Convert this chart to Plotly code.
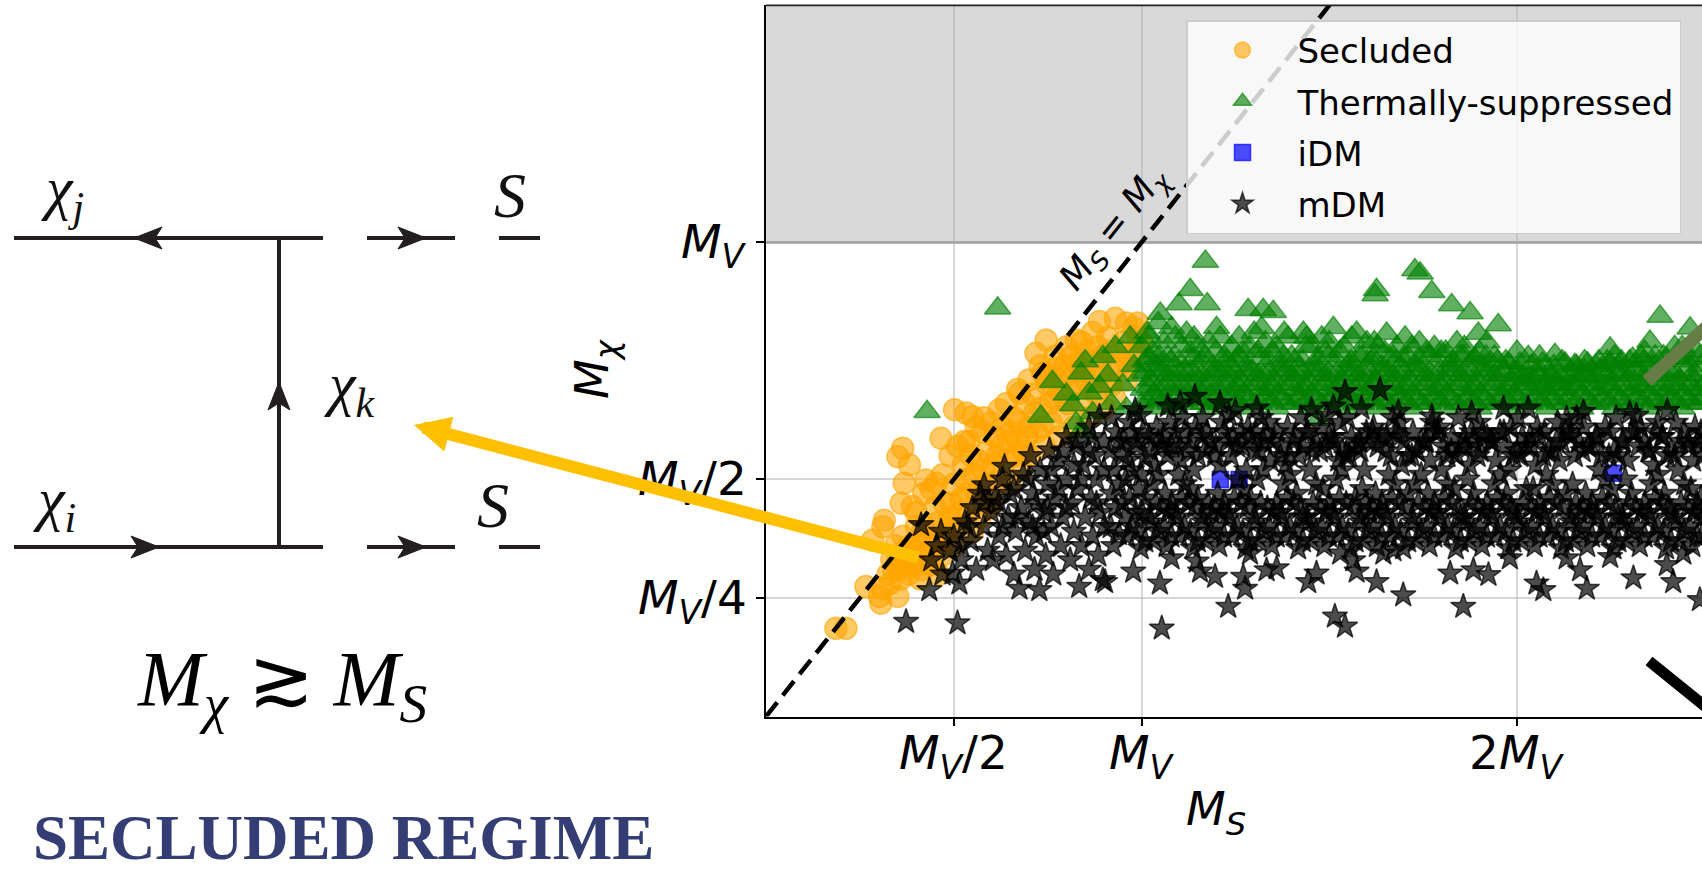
import plotly.graph_objects as go

W, H = 1702, 872

# ---------------- data (units of M_V) ----------------
secluded_pts = [
    (.186,.186),(.213,.186),(.266,.274),(.302,.253),(.306,.239),(.351,.253),(.284,.372),(.311,.400),
    (.315,.414),(.36,.45),(.39,.443),(.368,.492),(.351,.548),(.364,.566),(.382,.531),(.426,.499),
    (.453,.492),(.466,.587),(.502,.647),(.533,.640),(.55,.633),(.528,.580),(.621,.647),(.675,.682),
    (.719,.766),(.746,.794),(.772,.735),(.826,.794),(.888,.833),(.883,.780),(.826,.745),(.737,.724),
    (.93,.84),(.96,.83),(.99,.83),(.91,.80),
    (.33,.28),(.34,.31),(.35,.33),(.36,.29),(.345,.36),(.37,.35),
    (.38,.30),(.39,.33),(.40,.37),(.41,.29),(.42,.34),(.40,.40),(.415,.31),(.43,.38),(.385,.36),
    (.44,.32),(.45,.36),(.46,.41),(.47,.34),(.48,.38),(.45,.44),(.475,.45),(.46,.30),(.49,.42),
    (.50,.36),(.51,.40),(.52,.46),(.53,.50),(.54,.43),(.55,.39),(.50,.49),(.525,.53),(.545,.55),(.56,.47),
    (.57,.42),(.58,.52),(.59,.56),(.60,.46),(.61,.59),(.62,.50),(.575,.60),(.595,.44),(.615,.55),(.63,.61),
    (.64,.54),(.65,.49),(.66,.63),(.67,.58),(.68,.52),(.69,.66),(.70,.61),(.655,.60),(.685,.56),(.70,.55),
    (.71,.68),(.72,.60),(.73,.65),(.74,.57),(.75,.70),(.76,.62),(.77,.67),(.78,.59),(.745,.72),(.775,.71),
    (.79,.64),(.80,.72),(.81,.69),(.82,.61),(.83,.74),(.84,.66),(.85,.71),(.86,.63),(.815,.76),(.855,.77),
    (.87,.75),(.88,.68),(.89,.72),(.90,.65),(.91,.77),(.92,.70),(.94,.74),(.95,.79),(.97,.76),(.99,.80),
    (.93,.67),(.96,.71),
    (.31,.27),(.325,.30),(.335,.33),(.355,.31),(.365,.38),(.375,.32),(.395,.35),(.405,.32),(.42,.40),
    (.435,.35),(.445,.39),(.465,.37),(.485,.40),(.495,.45),(.515,.43),(.535,.47),(.555,.51),(.565,.54),
    (.585,.49),(.605,.53),(.625,.57),(.645,.58),(.665,.55),(.675,.62),(.695,.59),(.715,.64),(.735,.61),
    (.755,.66),(.765,.70),(.785,.68),(.795,.74),(.805,.66),(.825,.70),(.845,.73),(.865,.69),(.875,.72),
    (.895,.76),(.905,.70),(.925,.74),(.945,.77),(.965,.74),(.985,.77),(1.0,.79),(.98,.82),
    (.40,.43),(.42,.47),(.44,.48),(.47,.51),(.49,.55),(.51,.57),(.54,.58),(.56,.61),(.58,.63),
    (.60,.62),(.64,.66),(.67,.69),(.70,.71),(.73,.74),(.77,.76),(.80,.78),(.84,.79),(.87,.81),
]

thermal_pts = [
    (.617,.861),(.429,.643),(.732,.633),(.763,.706),(.839,.724),(.817,.657),(.826,.619),(.839,.601),
    (.861,.682),(.888,.696),(.897,.759),(.80,.68),(.87,.64),(.85,.75),(.91,.72),(.92,.66),(.93,.78),
    (.95,.70),(.96,.65),(.97,.80),(.98,.74),
    (1.00,.66),(1.005,.69),(.995,.72),(1.01,.75),(1.00,.78),(1.015,.81),
    (1.03,.65),(1.035,.68),(1.025,.71),(1.04,.74),(1.03,.77),(1.045,.83),
    (1.06,.67),(1.065,.70),(1.055,.73),(1.07,.76),(1.06,.79),(1.05,.85),
    (1.09,.65),(1.095,.69),(1.085,.72),(1.10,.75),(1.09,.80),(1.10,.87),
    (1.12,.66),(1.125,.70),(1.115,.73),(1.13,.77),(1.12,.81),(1.13,.90),
    (1.15,.67),(1.155,.69),(1.145,.72),(1.16,.75),(1.15,.78),(1.17,.96),
    (1.18,.65),(1.185,.68),(1.175,.71),(1.19,.74),(1.18,.79),(1.175,.87),
    (1.21,.66),(1.215,.70),(1.205,.73),(1.22,.76),(1.21,.80),
    (1.24,.67),(1.245,.69),(1.235,.72),(1.25,.75),(1.24,.78),
    (1.27,.65),(1.275,.68),(1.265,.71),(1.28,.74),(1.27,.77),(1.284,.858),
    (1.30,.66),(1.305,.70),(1.295,.73),(1.31,.77),(1.30,.81),(1.324,.858),
    (1.33,.67),(1.335,.69),(1.325,.72),(1.34,.75),(1.33,.79),(1.351,.854),
    (1.36,.65),(1.365,.68),(1.355,.71),(1.37,.74),(1.36,.78),
    (1.39,.66),(1.395,.70),(1.385,.73),(1.40,.76),(1.39,.80),
    (1.42,.67),(1.425,.69),(1.415,.72),(1.43,.75),(1.431,.81),
    (1.45,.65),(1.455,.68),(1.445,.71),(1.46,.74),(1.45,.78),(1.471,.626),
    (1.48,.66),(1.485,.70),(1.475,.73),(1.49,.77),(1.48,.80),
    (1.51,.67),(1.515,.69),(1.505,.72),(1.52,.75),(1.511,.82),
    (1.54,.65),(1.545,.68),(1.535,.71),(1.55,.74),(1.54,.78),
    (1.57,.66),(1.575,.70),(1.565,.73),(1.58,.76),(1.573,.81),
    (1.60,.67),(1.605,.69),(1.595,.72),(1.61,.75),(1.60,.79),
    (1.63,.65),(1.635,.68),(1.625,.71),(1.64,.74),(1.626,.90),(1.622,.889),(1.63,.78),
    (1.66,.66),(1.665,.70),(1.655,.73),(1.67,.76),(1.653,.808),
    (1.69,.67),(1.695,.69),(1.685,.72),(1.70,.75),(1.702,.80),
    (1.72,.65),(1.725,.68),(1.715,.71),(1.73,.74),(1.728,.942),(1.72,.78),
    (1.75,.66),(1.755,.70),(1.745,.73),(1.76,.77),(1.742,.935),
    (1.78,.67),(1.785,.69),(1.775,.72),(1.79,.75),(1.773,.896),(1.78,.78),
    (1.81,.65),(1.815,.68),(1.805,.71),(1.82,.74),(1.826,.868),(1.81,.77),
    (1.84,.66),(1.845,.70),(1.835,.73),(1.85,.76),(1.84,.79),
    (1.87,.67),(1.875,.69),(1.865,.72),(1.88,.75),(1.875,.851),(1.897,.808),
    (1.90,.65),(1.905,.68),(1.895,.71),(1.91,.74),(1.90,.77),
    (1.93,.66),(1.935,.70),(1.925,.73),(1.94,.76),(1.950,.826),
    (1.96,.67),(1.965,.69),(1.955,.72),(1.97,.75),
    (1.99,.65),(1.995,.68),(1.985,.71),(2.00,.73),
    (2.02,.66),(2.025,.70),(2.015,.72),(2.030,.759),
    (2.05,.67),(2.055,.69),(2.045,.71),(2.06,.73),
    (2.08,.65),(2.085,.68),(2.075,.70),(2.09,.72),
    (2.11,.66),(2.115,.69),(2.105,.71),(2.101,.763),
    (2.14,.67),(2.145,.70),(2.135,.72),(2.154,.742),
    (2.17,.65),(2.175,.68),(2.165,.71),(2.18,.73),
    (2.20,.66),(2.205,.69),(2.195,.72),(2.21,.74),
    (2.23,.67),(2.235,.70),(2.225,.73),(2.248,.777),(2.24,.75),
    (2.26,.65),(2.265,.68),(2.255,.71),(2.27,.74),
    (2.29,.66),(2.295,.69),(2.285,.72),(2.30,.75),
    (2.32,.67),(2.325,.70),(2.315,.73),(2.33,.76),
    (2.35,.65),(2.355,.68),(2.345,.71),(2.354,.791),(2.36,.74),
    (2.38,.66),(2.385,.69),(2.375,.72),(2.381,.844),(2.39,.76),
    (2.41,.67),(2.415,.70),(2.405,.73),(2.42,.78),
    (2.44,.65),(2.445,.68),(2.435,.71),(2.45,.75),
    (2.47,.66),(2.475,.69),(2.465,.72),(2.461,.819),(2.48,.77),
    (2.49,.67),(2.495,.70),(2.49,.74),
    (1.02,.80),(1.08,.82),(1.14,.80),(1.20,.82),(1.26,.80),(1.32,.82),(1.38,.81),(1.44,.80),
    (1.50,.79),(1.56,.80),(1.62,.79),(1.68,.78),(1.74,.79),(1.86,.78),(1.92,.79),(2.00,.77),
    (2.06,.76),(2.12,.75),(2.18,.75),(2.26,.76),(2.34,.77),(2.44,.78),
    # second layer in the band
    (1.015,.665),(1.02,.695),(1.01,.725),(1.018,.755),(1.045,.67),(1.05,.70),(1.04,.73),(1.048,.76),
    (1.075,.66),(1.08,.69),(1.07,.72),(1.078,.75),(1.105,.665),(1.11,.695),(1.10,.725),(1.108,.78),
    (1.135,.67),(1.14,.70),(1.13,.73),(1.138,.755),(1.165,.66),(1.17,.69),(1.16,.72),(1.168,.76),
    (1.195,.665),(1.20,.695),(1.19,.725),(1.198,.77),(1.225,.67),(1.23,.70),(1.22,.73),(1.228,.75),
    (1.255,.665),(1.26,.695),(1.25,.725),(1.258,.76),(1.285,.67),(1.29,.70),(1.28,.73),(1.288,.78),
    (1.315,.66),(1.32,.69),(1.31,.72),(1.318,.755),(1.345,.665),(1.35,.695),(1.34,.725),(1.348,.77),
    (1.375,.67),(1.38,.70),(1.37,.73),(1.378,.76),(1.405,.66),(1.41,.69),(1.40,.72),(1.408,.75),
    (1.435,.665),(1.44,.695),(1.43,.725),(1.438,.78),(1.465,.67),(1.47,.70),(1.46,.73),(1.468,.755),
    (1.495,.66),(1.50,.69),(1.49,.72),(1.498,.76),(1.525,.665),(1.53,.695),(1.52,.725),(1.528,.77),
    (1.555,.67),(1.56,.70),(1.55,.73),(1.558,.75),(1.585,.66),(1.59,.69),(1.58,.72),(1.588,.76),
    (1.615,.665),(1.62,.695),(1.61,.725),(1.618,.755),(1.645,.67),(1.65,.70),(1.64,.73),(1.648,.77),
    (1.675,.66),(1.68,.69),(1.67,.72),(1.678,.75),(1.705,.665),(1.71,.695),(1.70,.725),(1.708,.76),
    (1.735,.67),(1.74,.70),(1.73,.73),(1.738,.755),(1.765,.66),(1.77,.69),(1.76,.72),(1.768,.76),
    (1.795,.665),(1.80,.695),(1.79,.725),(1.798,.77),(1.825,.67),(1.83,.70),(1.82,.73),(1.828,.75),
    (1.855,.66),(1.86,.69),(1.85,.72),(1.858,.76),(1.885,.665),(1.89,.695),(1.88,.725),(1.888,.755),
    (1.915,.67),(1.92,.70),(1.91,.73),(1.918,.76),(1.945,.66),(1.95,.69),(1.94,.72),(1.948,.75),
    (1.975,.665),(1.98,.695),(1.97,.725),(1.978,.745),(2.005,.67),(2.01,.70),(2.00,.72),(2.008,.745),
    (2.035,.66),(2.04,.69),(2.03,.715),(2.038,.74),(2.065,.665),(2.07,.695),(2.06,.72),(2.068,.745),
    (2.095,.67),(2.10,.70),(2.09,.72),(2.098,.74),(2.125,.66),(2.13,.69),(2.12,.715),(2.128,.745),
    (2.155,.665),(2.16,.695),(2.15,.72),(2.158,.74),(2.185,.67),(2.19,.70),(2.18,.72),(2.188,.745),
    (2.215,.66),(2.22,.69),(2.21,.715),(2.218,.75),(2.245,.665),(2.25,.695),(2.24,.72),(2.248,.745),
    (2.275,.67),(2.28,.70),(2.27,.725),(2.278,.75),(2.305,.66),(2.31,.69),(2.30,.72),(2.308,.755),
    (2.335,.665),(2.34,.695),(2.33,.725),(2.338,.75),(2.365,.67),(2.37,.70),(2.36,.73),(2.368,.76),
    (2.395,.66),(2.40,.69),(2.39,.72),(2.398,.755),(2.425,.665),(2.43,.695),(2.42,.725),(2.428,.76),
    (2.455,.67),(2.46,.70),(2.45,.73),(2.458,.755),(2.485,.66),(2.49,.69),(2.48,.72),(2.488,.76),
]

idm_pts = [(1.21,.50),(1.26,.50),(2.257,.513)]

mdm_pts = [
    # left wedge below the diagonal
    (.373,.200),(.510,.197),
    (.413,.404),(.435,.267),(.44,.33),(.455,.36),(.466,.390),(.47,.30),(.49,.35),(.497,.302),(.50,.38),
    (.515,.281),(.52,.33),(.53,.41),(.545,.37),(.55,.44),(.56,.31),(.57,.47),(.58,.40),(.581,.488),
    (.59,.35),(.60,.43),(.604,.330),(.61,.46),(.62,.38),(.63,.50),(.635,.527),(.64,.34),(.645,.42),
    (.65,.47),(.66,.30),(.665,.39),(.675,.270),(.68,.44),(.685,.51),(.69,.35),(.70,.41),(.705,.55),
    (.71,.47),(.715,.31),(.72,.38),(.728,.267),(.73,.52),(.74,.43),(.745,.34),(.75,.49),(.755,.562),
    (.76,.40),(.765,.30),(.77,.46),(.78,.54),(.785,.36),(.79,.42),(.80,.59),(.80,.50),(.81,.33),
    (.815,.45),(.82,.39),(.825,.57),(.83,.48),(.834,.274),(.84,.36),(.845,.53),(.85,.42),(.86,.61),
    (.86,.31),(.865,.46),(.87,.38),(.875,.55),(.88,.50),(.885,.34),(.888,.633),(.89,.43),(.897,.288),
    (.90,.58),(.90,.40),
    (.62,.45),(.66,.48),(.70,.50),(.72,.45),(.74,.39),(.76,.52),(.78,.48),(.80,.44),(.82,.53),(.84,.50),
    (.86,.56),(.88,.45),(.90,.52),(.87,.59),(.83,.58),(.79,.56),(.75,.44),(.71,.40),(.67,.42),(.63,.40),
    (.58,.45),(.54,.40),(.52,.36),
    # main band
    (.925,.36),(.918,.40),(.93,.44),(.921,.47),(.927,.52),(.916,.56),(.932,.60),(.92,.63),
    (.962,.38),(.955,.42),(.968,.46),(.958,.50),(.964,.54),(.953,.58),(.966,.62),
    (.998,.355),(.99,.39),(1.002,.43),(.993,.48),(.999,.51),(.988,.57),(1.004,.60),(.996,.635),
    (1.033,.37),(1.026,.41),(1.038,.45),(1.029,.49),(1.035,.53),(1.024,.56),(1.04,.61),
    (1.067,.36),(1.06,.40),(1.072,.43),(1.063,.47),(1.069,.55),(1.058,.59),(1.074,.62),
    (1.102,.38),(1.095,.42),(1.107,.46),(1.098,.51),(1.104,.54),(1.093,.57),(1.109,.63),
    (1.137,.355),(1.13,.39),(1.142,.44),(1.133,.48),(1.139,.52),(1.128,.58),(1.144,.61),
    (1.172,.37),(1.165,.41),(1.177,.45),(1.168,.56),(1.174,.60),(1.163,.63),
    (1.207,.36),(1.20,.40),(1.212,.43),(1.203,.47),(1.209,.53),(1.198,.57),(1.214,.62),
    (1.242,.38),(1.235,.42),(1.247,.46),(1.238,.55),(1.244,.59),(1.233,.635),
    (1.277,.355),(1.27,.39),(1.282,.44),(1.273,.48),(1.279,.52),(1.268,.57),(1.284,.61),
    (1.312,.37),(1.305,.41),(1.317,.45),(1.308,.50),(1.314,.56),(1.303,.60),(1.319,.63),
    (1.347,.36),(1.34,.40),(1.352,.43),(1.343,.54),(1.349,.58),(1.338,.62),
    (1.382,.38),(1.375,.42),(1.387,.46),(1.378,.49),(1.384,.53),(1.373,.57),(1.389,.61),
    (1.417,.355),(1.41,.39),(1.422,.44),(1.413,.47),(1.419,.55),(1.408,.59),(1.424,.63),
    (1.452,.37),(1.445,.41),(1.457,.45),(1.448,.52),(1.454,.56),(1.443,.60),
    (1.487,.36),(1.48,.40),(1.492,.43),(1.483,.48),(1.489,.57),(1.478,.61),(1.494,.635),
    (1.522,.38),(1.515,.42),(1.527,.46),(1.518,.50),(1.524,.54),(1.513,.58),(1.529,.62),
    (1.557,.355),(1.55,.39),(1.562,.44),(1.553,.55),(1.559,.59),(1.548,.63),
    (1.592,.37),(1.585,.41),(1.597,.45),(1.588,.48),(1.594,.52),(1.583,.56),(1.599,.60),
    (1.627,.36),(1.62,.40),(1.632,.43),(1.623,.47),(1.629,.57),(1.618,.61),
    (1.662,.38),(1.655,.42),(1.667,.46),(1.658,.51),(1.664,.55),(1.653,.59),(1.669,.63),
    (1.697,.355),(1.69,.39),(1.702,.44),(1.693,.53),(1.699,.58),(1.688,.62),
    (1.732,.37),(1.725,.41),(1.737,.45),(1.728,.49),(1.734,.56),(1.723,.60),
    (1.767,.36),(1.76,.40),(1.772,.43),(1.763,.47),(1.769,.54),(1.758,.58),(1.774,.62),
    (1.802,.38),(1.795,.42),(1.807,.46),(1.798,.52),(1.804,.57),(1.793,.61),
    (1.837,.355),(1.83,.39),(1.842,.44),(1.833,.48),(1.839,.55),(1.828,.59),(1.844,.63),
    (1.872,.37),(1.865,.41),(1.877,.45),(1.868,.50),(1.874,.53),(1.863,.57),(1.879,.60),
    (1.907,.36),(1.90,.40),(1.912,.43),(1.903,.56),(1.909,.60),(1.898,.62),
    (1.942,.38),(1.935,.42),(1.947,.46),(1.938,.49),(1.944,.54),(1.933,.58),
    (1.977,.355),(1.97,.39),(1.982,.44),(1.973,.47),(1.979,.52),(1.968,.57),(1.984,.61),
    (2.012,.37),(2.005,.41),(2.017,.45),(2.008,.55),(2.014,.59),(2.003,.63),
    (2.047,.36),(2.04,.40),(2.052,.43),(2.043,.48),(2.049,.53),(2.038,.57),(2.054,.61),
    (2.082,.38),(2.075,.42),(2.087,.46),(2.078,.51),(2.084,.56),(2.073,.60),
    (2.117,.355),(2.11,.39),(2.122,.44),(2.113,.54),(2.119,.58),(2.108,.62),
    (2.152,.37),(2.145,.41),(2.157,.45),(2.148,.49),(2.154,.55),(2.143,.59),(2.159,.63),
    (2.187,.36),(2.18,.40),(2.192,.43),(2.183,.47),(2.189,.57),(2.178,.61),
    (2.222,.38),(2.215,.42),(2.227,.46),(2.218,.52),(2.224,.55),(2.213,.59),
    (2.257,.355),(2.25,.39),(2.262,.44),(2.253,.48),(2.259,.56),(2.248,.60),(2.264,.63),
    (2.292,.37),(2.285,.41),(2.297,.45),(2.288,.50),(2.294,.54),(2.283,.58),
    (2.327,.36),(2.32,.40),(2.332,.43),(2.323,.57),(2.329,.61),(2.318,.635),
    (2.362,.38),(2.355,.42),(2.367,.46),(2.358,.49),(2.364,.53),(2.353,.56),(2.369,.60),
    (2.397,.355),(2.39,.39),(2.402,.44),(2.393,.47),(2.399,.55),(2.388,.59),
    (2.432,.37),(2.425,.41),(2.437,.45),(2.428,.52),(2.434,.58),(2.423,.62),
    (2.467,.36),(2.46,.40),(2.472,.43),(2.463,.48),(2.469,.54),(2.458,.57),(2.474,.61),
    (2.492,.38),(2.497,.42),(2.49,.46),(2.495,.55),(2.49,.60),
    # second layer in the band
    (.94,.385),(.94,.49),(.94,.58),(.975,.40),(.975,.52),(.975,.60),(1.01,.37),(1.01,.46),(1.01,.545),
    (1.045,.39),(1.045,.51),(1.045,.58),(1.08,.38),(1.08,.45),(1.08,.57),(1.115,.40),(1.115,.49),
    (1.115,.60),(1.15,.37),(1.15,.46),(1.15,.55),(1.185,.39),(1.185,.43),(1.185,.58),(1.22,.38),
    (1.22,.45),(1.22,.60),(1.255,.40),(1.255,.50),(1.255,.57),(1.29,.37),(1.29,.46),(1.29,.59),
    (1.325,.39),(1.325,.52),(1.325,.58),(1.36,.38),(1.36,.45),(1.36,.60),(1.395,.40),(1.395,.51),
    (1.395,.55),(1.43,.37),(1.43,.42),(1.43,.57),(1.465,.39),(1.465,.49),(1.465,.58),(1.50,.38),
    (1.50,.45),(1.50,.59),(1.535,.40),(1.535,.52),(1.535,.56),(1.57,.37),(1.57,.46),(1.57,.57),
    (1.605,.39),(1.605,.43),(1.605,.58),(1.64,.38),(1.64,.45),(1.64,.59),(1.675,.40),(1.675,.49),
    (1.675,.60),(1.71,.37),(1.71,.47),(1.71,.55),(1.745,.39),(1.745,.51),(1.745,.58),(1.78,.38),
    (1.78,.45),(1.78,.60),(1.815,.40),(1.815,.49),(1.815,.55),(1.85,.37),(1.85,.42),(1.85,.57),
    (1.885,.39),(1.885,.47),(1.885,.58),(1.92,.38),(1.92,.45),(1.92,.59),(1.955,.40),(1.955,.51),
    (1.955,.60),(1.99,.37),(1.99,.43),(1.99,.55),(2.025,.39),(2.025,.48),(2.025,.57),(2.06,.38),
    (2.06,.45),(2.06,.59),(2.095,.40),(2.095,.49),(2.095,.56),(2.13,.37),(2.13,.47),(2.13,.60),
    (2.165,.39),(2.165,.43),(2.165,.58),(2.20,.38),(2.20,.45),(2.20,.57),(2.235,.40),(2.235,.50),
    (2.235,.61),(2.27,.37),(2.27,.42),(2.27,.55),(2.305,.39),(2.305,.47),(2.305,.60),(2.34,.38),
    (2.34,.45),(2.34,.58),(2.375,.40),(2.375,.51),(2.375,.62),(2.41,.37),(2.41,.43),(2.41,.56),
    (2.445,.39),(2.445,.49),(2.445,.60),(2.48,.38),(2.48,.45),(2.48,.58),
    # third layer (densest rows)
    (.95,.45),(.95,.55),(.985,.43),(.985,.58),(1.02,.42),(1.02,.59),(1.055,.44),(1.055,.57),
    (1.09,.43),(1.09,.60),(1.125,.45),(1.125,.56),(1.16,.42),(1.16,.59),(1.195,.44),(1.195,.55),
    (1.23,.43),(1.23,.58),(1.265,.45),(1.265,.60),(1.30,.42),(1.30,.56),(1.335,.44),(1.335,.59),
    (1.37,.43),(1.37,.55),(1.405,.45),(1.405,.58),(1.44,.42),(1.44,.60),(1.475,.44),(1.475,.56),
    (1.51,.43),(1.51,.59),(1.545,.45),(1.545,.55),(1.58,.42),(1.58,.58),(1.615,.44),(1.615,.60),
    (1.65,.43),(1.65,.56),(1.685,.45),(1.685,.59),(1.72,.42),(1.72,.55),(1.755,.44),(1.755,.58),
    (1.79,.43),(1.79,.60),(1.825,.45),(1.825,.56),(1.86,.42),(1.86,.59),(1.895,.44),(1.895,.55),
    (1.93,.43),(1.93,.58),(1.965,.45),(1.965,.60),(2.00,.42),(2.00,.56),(2.035,.44),(2.035,.59),
    (2.07,.43),(2.07,.55),(2.105,.45),(2.105,.58),(2.14,.42),(2.14,.60),(2.175,.44),(2.175,.56),
    (2.21,.43),(2.21,.59),(2.245,.45),(2.245,.55),(2.28,.42),(2.28,.58),(2.315,.44),(2.315,.60),
    (2.35,.43),(2.35,.56),(2.385,.45),(2.385,.59),(2.42,.42),(2.42,.55),(2.455,.44),(2.455,.58),
    (2.49,.43),(2.49,.57),
    # stars sitting on the green band
    (1.142,.675),(1.103,.661),(1.209,.661),(.983,.647),(1.307,.650),(1.542,.685),(1.635,.689),
    (1.511,.654),(1.586,.650),(1.684,.643),(1.453,.647),(1.773,.633),(1.879,.640),(1.964,.650),
    (2.030,.650),(2.132,.629),(2.177,.643),(1.07,.655),(1.25,.645),(2.30,.64),(2.40,.645),
    # lower scattered stars
    (1.054,.186),(1.231,.232),(1.515,.211),(1.542,.190),(.903,.284),(.978,.306),(1.049,.281),
    (1.156,.306),(1.196,.295),(1.271,.295),(1.276,.270),(1.333,.309),(1.444,.284),(1.466,.302),
    (1.573,.306),(1.626,.284),(1.697,.256),(1.644,.344),(1.671,.351),(1.080,.334),(1.147,.327),
    (1.289,.344),(1.360,.313),(1.529,.344),(1.564,.330),(1.857,.232),(2.052,.281),(2.07,.267),
    (2.186,.270),(2.31,.292),(2.416,.284),(2.487,.246),(1.822,.302),(1.884,.309),(1.924,.299),
    (1.981,.334),(2.132,.334),(2.168,.309),(2.248,.337),(2.399,.320),(2.443,.344),
]

sec_x = [p[0] for p in secluded_pts]; sec_y = [p[1] for p in secluded_pts]
ts_x = [p[0] for p in thermal_pts]; ts_y = [p[1] for p in thermal_pts]
idm_x = [p[0] for p in idm_pts]; idm_y = [p[1] for p in idm_pts]
mdm_x = [p[0] for p in mdm_pts]; mdm_y = [p[1] for p in mdm_pts]

diag_x = [0.0, 1.6]
diag_y = [0.0, 1.6]

x_tickvals = [0.5, 1.0, 2.0]
x_ticktext = ["<i>M</i><sub><i>V</i></sub>/2", "<i>M</i><sub><i>V</i></sub>", "2<i>M</i><sub><i>V</i></sub>"]
y_tickvals = [0.25, 0.5, 1.0]
y_ticktext = ["<i>M</i><sub><i>V</i></sub>/4", "<i>M</i><sub><i>V</i></sub>/2", "<i>M</i><sub><i>V</i></sub>"]

X_RANGE = [0, 2.4927]
Y_RANGE = [0, 1.5]

# ---------------- figure ----------------
fig = go.Figure()

fig.add_trace(go.Scatter(
    x=sec_x, y=sec_y, mode="markers", name="Secluded", legendgroup="a",
    marker=dict(symbol="circle", size=22, color="rgba(255,165,0,0.6)",
                line=dict(color="rgba(255,165,0,0.6)", width=1.5))))
fig.add_trace(go.Scatter(
    x=ts_x, y=ts_y, mode="markers", name="Thermally-suppressed", legendgroup="b",
    marker=dict(symbol="triangle-up", size=23, color="rgba(0,128,0,0.62)",
                line=dict(color="rgba(0,128,0,0.62)", width=1.5))))
fig.add_trace(go.Scatter(
    x=idm_x, y=idm_y, mode="markers", name="iDM", legendgroup="c",
    marker=dict(symbol="square", size=16, color="rgba(0,0,255,0.7)",
                line=dict(color="rgba(0,0,255,0.7)", width=1.5))))
fig.add_trace(go.Scatter(
    x=mdm_x, y=mdm_y, mode="markers", name="mDM", legendgroup="d",
    marker=dict(symbol="star", size=19, color="rgba(0,0,0,0.7)",
                line=dict(color="rgba(0,0,0,0.7)", width=1.5))))
fig.add_trace(go.Scatter(
    x=diag_x, y=diag_y, mode="lines", showlegend=False, hoverinfo="skip",
    line=dict(color="black", width=4.5, dash="18px,9px")))

x_dom = [766 / W, 1.0]
y_dom = [1 - 716.5 / H, 1 - 5.4 / H]

fig.update_layout(
    width=W, height=H, margin=dict(l=0, r=0, t=0, b=0),
    paper_bgcolor="white", plot_bgcolor="rgba(0,0,0,0)",
    xaxis=dict(domain=x_dom, range=X_RANGE, tickvals=x_tickvals, showticklabels=False,
               showgrid=True, gridcolor="rgba(176,176,176,0.5)", gridwidth=1.5, zeroline=False,
               showline=True, linecolor="black", linewidth=1.8, mirror=False,
               ticks="outside", ticklen=8, tickwidth=1.8, tickcolor="black"),
    yaxis=dict(domain=y_dom, range=Y_RANGE, tickvals=y_tickvals, showticklabels=False,
               showgrid=True, gridcolor="rgba(176,176,176,0.5)", gridwidth=1.5, zeroline=False,
               showline=True, linecolor="black", linewidth=1.8, mirror=False,
               ticks="outside", ticklen=8, tickwidth=1.8, tickcolor="black"),
    legend=dict(x=1186 / W, y=1 - 20 / H, xanchor="left", yanchor="top",
                bgcolor="rgba(255,255,255,0.8)", bordercolor="#cccccc", borderwidth=1.5,
                font=dict(family="DejaVu Sans", size=34, color="black"), itemwidth=100,
                tracegroupgap=4),
)


def P(px, py):
    return px / W, 1 - py / H


shapes = []
# gray excluded band M_chi > M_V
shapes.append(dict(type="rect", xref="x", yref="y", x0=0, x1=X_RANGE[1], y0=1.0, y1=Y_RANGE[1],
                   fillcolor="rgba(128,128,128,0.3)", line=dict(width=0), layer="below"))
shapes.append(dict(type="line", xref="x", yref="y", x0=0, x1=X_RANGE[1], y0=1.0, y1=1.0,
                   line=dict(color="rgba(90,90,90,0.6)", width=2.5), layer="below"))
# top spine
shapes.append(dict(type="line", xref="paper", yref="paper", x0=766 / W, x1=1.0,
                   y0=y_dom[1], y1=y_dom[1], line=dict(color="#222222", width=1.8)))


def seg(x0, y0, x1, y1, color="#231f20", width=4):
    a = P(x0, y0); b = P(x1, y1)
    shapes.append(dict(type="line", xref="paper", yref="paper", x0=a[0], y0=a[1], x1=b[0], y1=b[1],
                       line=dict(color=color, width=width)))


def poly(pts, color="#231f20"):
    s = ""
    for i, (px, py) in enumerate(pts):
        q = P(px, py)
        s += ("M" if i == 0 else "L") + f"{q[0]:.5f},{q[1]:.5f} "
    s += "Z"
    shapes.append(dict(type="path", xref="paper", yref="paper", path=s,
                       fillcolor=color, line=dict(color=color, width=1)))


# Feynman diagram
seg(14, 238, 323, 238)
seg(14, 547, 323, 547)
seg(279, 238, 279, 547)
seg(367, 238, 455, 238)
seg(367, 547, 455, 547)
seg(499, 238, 540, 238)
seg(499, 547, 540, 547)
poly([(134, 238), (162, 227), (155, 238), (162, 249)])
poly([(159, 547), (131, 536), (138, 547), (131, 558)])
poly([(279, 382), (268, 410), (279, 403), (290, 410)])
poly([(426, 238), (398, 227), (405, 238), (398, 249)])
poly([(426, 547), (398, 536), (405, 547), (398, 558)])

# partial arrows at right edge
seg(1647, 381, 1712, 322, color="#667d45", width=13)
seg(1649, 661, 1712, 712, color="black", width=11)

fig.update_layout(shapes=shapes)

ann = []


def txt(px, py, text, size, family="Liberation Serif", color="#111111", angle=0, xanchor="center"):
    a = P(px, py)
    ann.append(dict(x=a[0], y=a[1], xref="paper", yref="paper", text=text, showarrow=False,
                    xanchor=xanchor, yanchor="middle", textangle=angle,
                    font=dict(family=family, size=size, color=color)))


txt(62, 193, "<i>χ<sub>j</sub></i>", 60)
txt(510, 195, "<i>S</i>", 64)
txt(349, 388, "<i>χ<sub>k</sub></i>", 60)
txt(55, 503, "<i>χ<sub>i</sub></i>", 60)
txt(493, 505, "<i>S</i>", 64)
txt(282, 684, "<i>M</i><sub><i>χ</i></sub> ≳ <i>M</i><sub><i>S</i></sub>", 79, color="black")
txt(343, 838, "<b>SECLUDED REGIME</b>", 63, color="#343d74")

# tick labels
tick_font = dict(family="DejaVu Sans", size=47, color="black")
for v, t in zip(x_tickvals, x_ticktext):
    ann.append(dict(x=v, y=1 - 756 / H, xref="x", yref="paper", text=t, showarrow=False,
                    xanchor="center", yanchor="middle", font=tick_font))
for v, t in zip(y_tickvals, y_ticktext):
    ann.append(dict(x=749 / W, y=v, xref="paper", yref="y", text=t, showarrow=False,
                    xanchor="right", yanchor="middle", yshift=-3, font=tick_font))

# axis titles and diagonal label
txt(595, 369, "<i>M</i><sub><i>χ</i></sub>", 46, family="DejaVu Sans", color="black", angle=-90)
txt(1216, 812, "<i>M</i><sub><i>S</i></sub>", 46, family="DejaVu Sans", color="black")
txt(1114, 229, "<i>M</i><sub><i>S</i></sub> = <i>M</i><sub><i>χ</i></sub>", 36,
    family="DejaVu Sans", color="black", angle=-51.6)

# yellow arrow (drawn above the tick labels)
tip = P(414, 425)
ann.append(dict(x=tip[0], y=tip[1], xref="paper", yref="paper", text="", showarrow=True,
                axref="pixel", ayref="pixel", ax=920 - 414, ay=558 - 425,
                arrowhead=2, arrowsize=0.6, arrowwidth=12, arrowcolor="#FFC000", standoff=0))

fig.update_layout(annotations=ann)

fig.write_html("out.html")
